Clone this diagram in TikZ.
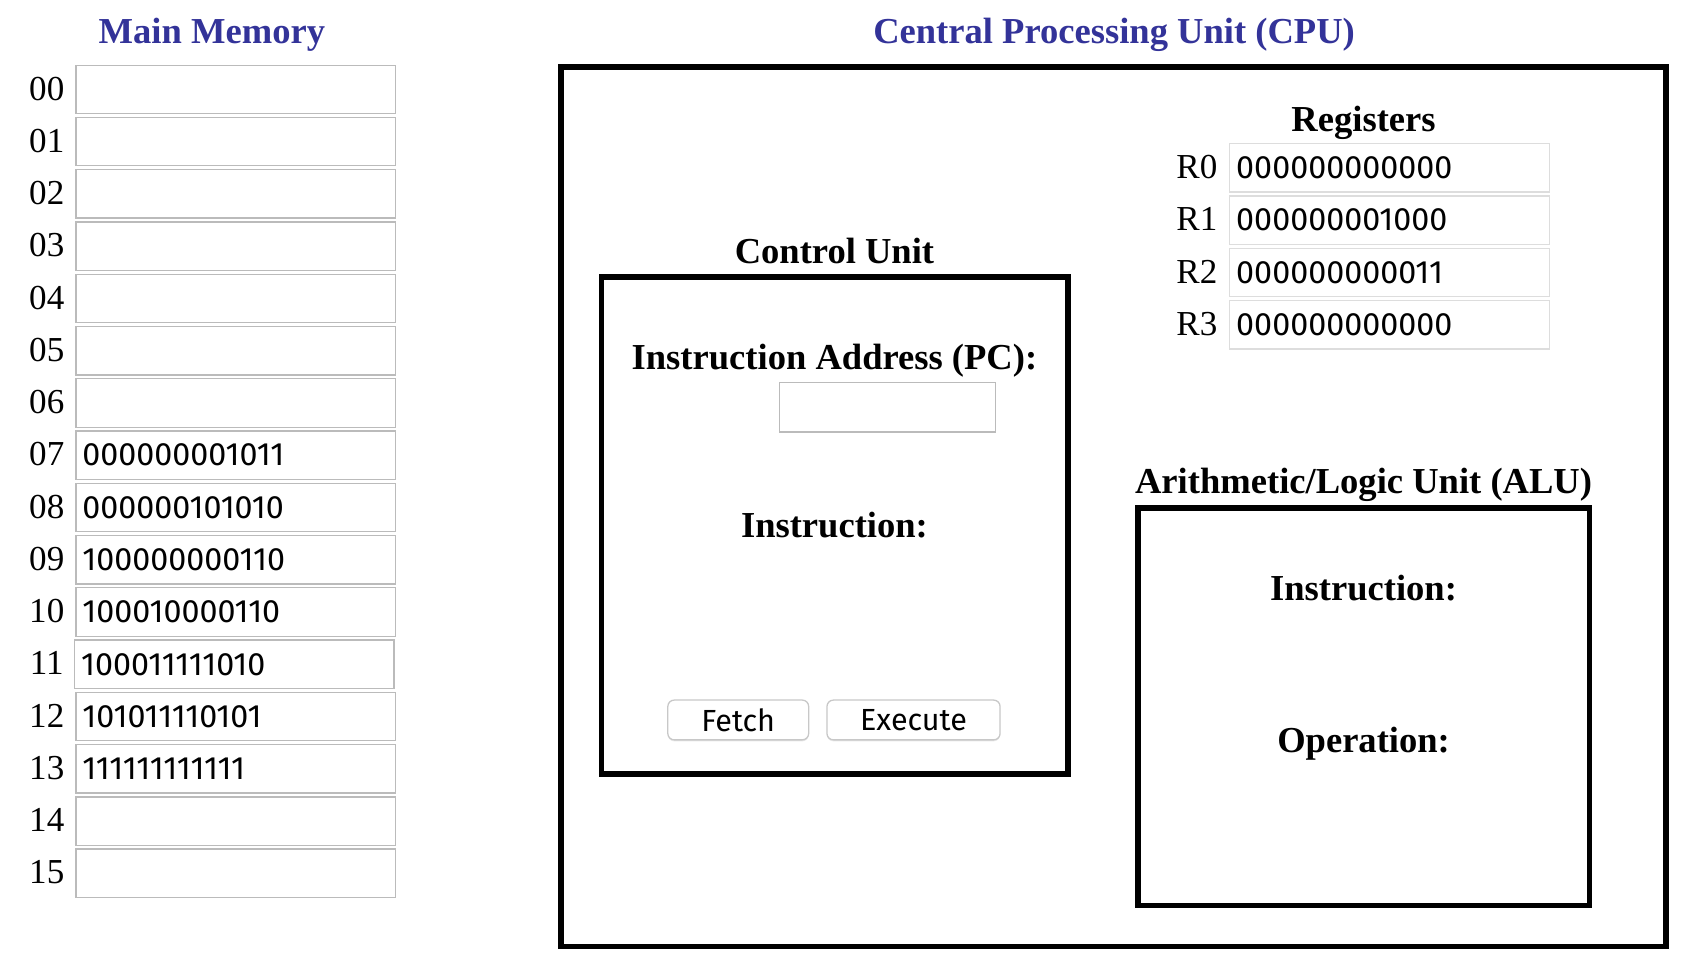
\documentclass[tikz,border=0pt]{standalone}
\usepackage{fontspec}
\setmainfont{Liberation Serif}
\newfontfamily\valfont[Numbers=Proportional]{Fira Sans}
\usetikzlibrary{shadows}
\definecolor{hblue}{HTML}{333399}
\definecolor{cellgray}{HTML}{BBBBBB}
\definecolor{reggray}{HTML}{DDDDDD}
\definecolor{btngray}{HTML}{C8C8C8}
\tikzset{
  heading/.style={font=\fontsize{17}{20}\selectfont\bfseries, anchor=base, inner sep=0pt},
  titletext/.style={heading, text=hblue},
  addr/.style={font=\fontsize{16.3}{19}\selectfont, anchor=base, inner sep=0pt},
  cell/.style={draw=cellgray, line width=0.6pt, anchor=north west,
    text width=142.5pt, inner xsep=3pt, inner ysep=0pt, align=left,
    minimum height=22.5pt, font=\valfont\fontsize{15}{18}\selectfont},
  regcell/.style={cell, draw=reggray},
  frame/.style={draw=black, line width=2.6pt},
  btn/.style={draw=btngray, line width=0.6pt, rounded corners=3pt, fill=white,
    inner sep=0pt, minimum height=18.5pt,
    drop shadow={shadow xshift=0pt, shadow yshift=-0.7pt, opacity=0.18},
    font=\valfont\fontsize{14.2}{16}\selectfont},
}
\begin{document}
\begin{tikzpicture}[x=0.5pt,y=-0.5pt]
\useasboundingbox (0,0) rectangle (1566,891);
% Main memory
\node[titletext] (mmtitle) at (197,40) {Main Memory};
\foreach \i/\lab/\val/\dx in {0/00/{}/0,1/01/{}/0,2/02/{}/0,3/03/{}/0,4/04/{}/0,5/05/{}/0,6/06/{}/0,
  7/07/000000001011/0,8/08/000000101010/0,9/09/100000000110/0,10/10/100010000110/0,
  11/11/100011111010/-1.2,12/12/101011110101/0,13/13/111111111111/0,14/14/{}/0,15/15/{}/0}{
  \node[addr] (l\i) at (43.5,{93+\i*48.6}) {\lab};
  \node[cell] (m\i) at ({70+\dx},{60+\i*48.6}) {\val};
}
% CPU
\node[titletext] (cputitle) at (1036,40) {Central Processing Unit (CPU)};
\draw[frame] (521.5,62.5) rectangle (1549,880);
% Registers
\node[heading] (regtitle) at (1268,122) {Registers};
\foreach \i/\val in {0/000000000000,1/000000001000,2/000000000011,3/000000000000}{
  \node[addr] (rl\i) at (1113,{166+\i*48.6}) {R\i};
  \node[regcell] (r\i) at (1143,{133+\i*48.6}) {\val};
}
% Control unit
\node[heading] (cutitle) at (776,245) {Control Unit};
\draw[frame] (559.5,257.5) rectangle (993,720);
\node[heading] (pclabel) at (776,344) {Instruction Address (PC):};
\node[draw=cellgray, line width=0.6pt, anchor=north west, minimum width=100.5pt,
  minimum height=23pt, inner sep=0pt] (pc) at (724,355) {};
\node[heading] (cuinstr) at (776,500) {Instruction:};
\node[btn, minimum width=65.5pt] (fetch) at (686.5,669.5) {Fetch};
\node[btn, minimum width=80.5pt] (exec) at (849.5,669.5) {Execute};
% ALU
\node[heading] (alutitle) at (1268,459) {Arithmetic/Logic Unit (ALU)};
\draw[frame] (1058.5,472.5) rectangle (1478,842);
\node[heading] (aluinstr) at (1268,558) {Instruction:};
\node[heading] (aluop) at (1268,700) {Operation:};
\end{tikzpicture}
\end{document}
